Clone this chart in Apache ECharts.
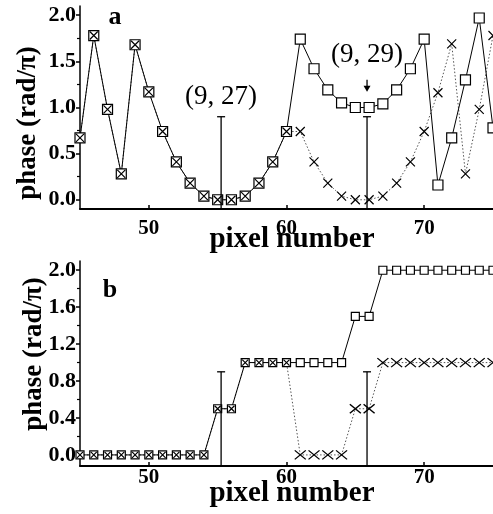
<!DOCTYPE html>
<html>
<head>
<meta charset="utf-8">
<script src="https://cdn.jsdelivr.net/npm/echarts@6/dist/echarts.min.js"></script>
<style>
html, body { margin: 0; padding: 0; background: #fff; }
#main { width: 493px; height: 514px; }
</style>
</head>
<body>
<div id="main"></div>
<script>
// pixel index along the row
var pixels = [45, 46, 47, 48, 49, 50, 51, 52, 53, 54, 55, 56, 57, 58, 59, 60,
              61, 62, 63, 64, 65, 66, 67, 68, 69, 70, 71, 72, 73, 74, 75];

// (a) wrapped phase, two unwrapping paths
var topSquare = [0.67, 1.78, 0.98, 0.28, 1.68, 1.17, 0.74, 0.41, 0.18, 0.04, 0.0, 0.0, 0.04, 0.18, 0.41, 0.74,
                 1.74, 1.42, 1.19, 1.05, 1.0, 1.0, 1.04, 1.19, 1.42, 1.74, 0.16, 0.67, 1.30, 1.97, 0.78];
var topCross  = [0.67, 1.78, 0.98, 0.28, 1.68, 1.17, 0.74, 0.41, 0.18, 0.04, 0.0, 0.0, 0.04, 0.18, 0.41, 0.74,
                 0.74, 0.41, 0.18, 0.04, 0.0, 0.0, 0.04, 0.18, 0.41, 0.74, 1.16, 1.69, 0.28, 0.98, 1.78];

// (b) phase steps
var botSquare = [0, 0, 0, 0, 0, 0, 0, 0, 0, 0, 0.5, 0.5, 1.0, 1.0, 1.0, 1.0,
                 1.0, 1.0, 1.0, 1.0, 1.5, 1.5, 2.0, 2.0, 2.0, 2.0, 2.0, 2.0, 2.0, 2.0, 2.0];
var botCross  = [0, 0, 0, 0, 0, 0, 0, 0, 0, 0, 0.5, 0.5, 1.0, 1.0, 1.0, 1.0,
                 0, 0, 0, 0, 0.5, 0.5, 1.0, 1.0, 1.0, 1.0, 1.0, 1.0, 1.0, 1.0, 1.0];

// vertical markers and their labels
var cutX = [55.25, 65.85];
var cutTop = 0.9;
var cutLabels = ['(9, 27)', '(9, 29)'];
var cutLabelY = [1.12, 1.57];
var arrowY = [1.30, 1.17];   // arrow above (9, 29) marker

var xTicks = [50, 60, 70];
var topTicks = [0, 0.5, 1.0, 1.5, 2.0];
var topMinor = [0.25, 0.75, 1.25, 1.75];
var botTicks = [0, 0.4, 0.8, 1.2, 1.6, 2.0];
var botMinor = [0.2, 0.6, 1.0, 1.4, 1.8];

var FONT = '"Liberation Serif", "DejaVu Serif", serif';

function pairs(ys) {
    return pixels.map(function (x, i) { return [x, ys[i]]; });
}

var crossPath = 'path://M0,0L10,10M10,0L0,10';

var chart = echarts.init(document.getElementById('main'));

function xAxisCfg(idx, margin) {
    return {
        gridIndex: idx, type: 'value', min: 45, max: 75,
        axisLine: { show: true, onZero: false, lineStyle: { color: '#000', width: 2 } },
        axisTick: { show: true, inside: true, length: 4, customValues: xTicks, lineStyle: { color: '#000', width: 1.5 } },
        axisLabel: { customValues: xTicks, margin: margin, color: '#000', fontFamily: FONT, fontWeight: 'bold', fontSize: 21 },
        splitLine: { show: false }
    };
}

function yAxisCfg(idx, min, max, ticks) {
    return {
        gridIndex: idx, type: 'value', min: min, max: max,
        axisLine: { show: true, onZero: false, lineStyle: { color: '#000', width: 1.5 } },
        axisTick: { show: true, inside: false, length: 4, customValues: ticks, lineStyle: { color: '#000', width: 1.5 } },
        axisLabel: {
            customValues: ticks, margin: 4, color: '#000', fontFamily: FONT, fontWeight: 'bold', fontSize: 22,
            formatter: function (v) { return v.toFixed(1); }
        },
        splitLine: { show: false }
    };
}

function minorAxisCfg(idx, min, max, ticks) {
    return {
        gridIndex: idx, type: 'value', min: min, max: max, position: 'left',
        axisLine: { show: false },
        axisTick: { show: true, inside: false, length: 3, customValues: ticks, lineStyle: { color: '#000', width: 1.2 } },
        axisLabel: { show: false },
        splitLine: { show: false }
    };
}

function cutSeries(xi, yi, withText) {
    return {
        type: 'custom', xAxisIndex: xi, yAxisIndex: yi, z: 5, silent: true,
        data: cutX.map(function (x, i) { return [x, cutTop, i]; }),
        renderItem: function (params, api) {
            var x = api.value(0), i = api.value(2);
            var top = api.coord([x, api.value(1)]);
            var bottom = [top[0], params.coordSys.y + params.coordSys.height + 1];
            var children = [
                { type: 'line', shape: { x1: top[0], y1: top[1], x2: bottom[0], y2: bottom[1] }, style: { stroke: '#000', lineWidth: 1.3 } },
                { type: 'line', shape: { x1: top[0] - 4, y1: top[1], x2: top[0] + 4, y2: top[1] }, style: { stroke: '#000', lineWidth: 1.3 } }
            ];
            if (withText) {
                var t = api.coord([x, cutLabelY[i]]);
                children.push({
                    type: 'text', x: t[0], y: t[1],
                    style: { text: cutLabels[i], fill: '#000', font: '27px ' + FONT, align: 'center', verticalAlign: 'middle' }
                });
                if (i === 1) {
                    var a0 = api.coord([x, arrowY[0]]), a1 = api.coord([x, arrowY[1]]);
                    children.push({ type: 'line', shape: { x1: a0[0], y1: a0[1], x2: a1[0], y2: a1[1] - 4 }, style: { stroke: '#000', lineWidth: 1.3 } });
                    children.push({ type: 'polygon', shape: { points: [[a1[0] - 3.5, a1[1] - 6], [a1[0] + 3.5, a1[1] - 6], [a1[0], a1[1]]] }, style: { fill: '#000' } });
                }
            }
            return { type: 'group', children: children };
        }
    };
}

function panelSeries(xi, yi, sq, cr, sqSize, crSize, inSize) {
    return [
        {   // cross path line (dotted, underneath)
            type: 'line', xAxisIndex: xi, yAxisIndex: yi, z: 2, data: pairs(cr),
            showSymbol: false, silent: true,
            lineStyle: { color: '#555', width: 1, type: [1.5, 2] }
        },
        {   // square path
            type: 'line', xAxisIndex: xi, yAxisIndex: yi, z: 3, data: pairs(sq),
            symbol: 'rect', symbolSize: sqSize, silent: true,
            lineStyle: { color: '#000', width: 1 },
            itemStyle: { color: '#fff', borderColor: '#000', borderWidth: 1.2 }
        },
        {   // cross markers on top
            type: 'line', xAxisIndex: xi, yAxisIndex: yi, z: 4, data: pairs(cr),
            symbol: crossPath, silent: true,
            symbolSize: function (val, p) { return sq[p.dataIndex] === val[1] ? inSize : crSize; },
            lineStyle: { width: 0, opacity: 0 },
            itemStyle: { color: '#000', borderColor: '#000', borderWidth: 1.2 }
        }
    ];
}

var option = {
    backgroundColor: '#fff',
    animation: false,
    grid: [
        { left: 80, right: 0, top: 6, height: 203 },
        { left: 80, right: 0, top: 261, height: 205 }
    ],
    xAxis: [xAxisCfg(0, 9), xAxisCfg(1, 1)],
    yAxis: [
        yAxisCfg(0, -0.1, 2.1, topTicks),
        yAxisCfg(1, -0.12, 2.1, botTicks),
        minorAxisCfg(0, -0.1, 2.1, topMinor),
        minorAxisCfg(1, -0.12, 2.1, botMinor)
    ],
    graphic: [
        { type: 'text', x: 28, y: 123, rotation: Math.PI / 2, style: { text: 'phase (rad/π)', font: 'bold 27px ' + FONT, fill: '#000', align: 'center', verticalAlign: 'middle' } },
        { type: 'text', x: 34, y: 354, rotation: Math.PI / 2, style: { text: 'phase (rad/π)', font: 'bold 27px ' + FONT, fill: '#000', align: 'center', verticalAlign: 'middle' } },
        { type: 'text', x: 292, y: 240, style: { text: 'pixel number', font: 'bold 29px ' + FONT, fill: '#000', align: 'center', verticalAlign: 'middle' } },
        { type: 'text', x: 292, y: 494, style: { text: 'pixel number', font: 'bold 29px ' + FONT, fill: '#000', align: 'center', verticalAlign: 'middle' } },
        { type: 'text', x: 115, y: 17, style: { text: 'a', font: 'bold 26px ' + FONT, fill: '#000', align: 'center', verticalAlign: 'middle' } },
        { type: 'text', x: 110, y: 290, style: { text: 'b', font: 'bold 26px ' + FONT, fill: '#000', align: 'center', verticalAlign: 'middle' } }
    ],
    series: []
        .concat(panelSeries(0, 0, topSquare, topCross, 10, 9, 8))
        .concat(panelSeries(1, 1, botSquare, botCross, 8, [11, 9], 6))
        .concat([cutSeries(0, 0, true), cutSeries(1, 1, false)])
};

chart.setOption(option);
</script>
</body>
</html>
